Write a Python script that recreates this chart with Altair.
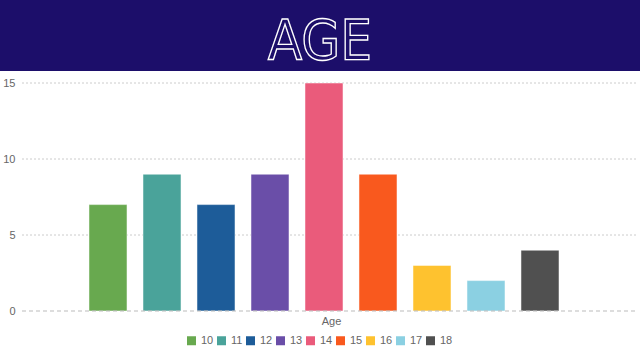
import altair as alt
import pandas as pd

ages = ["10", "11", "12", "13", "14", "15", "16", "17", "18"]
counts = [7, 9, 7, 9, 15, 9, 3, 2, 4]
colors = ["#68a94f", "#4aa39a", "#1d5c99", "#6a4ea8", "#ea5b7b", "#f9591e",
          "#fec22f", "#8bd0e2", "#505050"]
y_ticks = [0, 5, 10, 15]
title_text = ["AGE"]

df = pd.DataFrame({"age": ages, "count": counts})
gdf = pd.DataFrame({"v": y_ticks[1:]})
tdf = pd.DataFrame({"t": title_text})

NAVY = "#1c0e6a"
FONT = "Liberation Sans"
W, H = 618, 228

y_axis = alt.Axis(values=y_ticks, ticks=False, domain=False,
                  labelFont=FONT, labelFontSize=11, labelColor="#666666",
                  labelPadding=7, title=None, grid=False)

grid = alt.Chart(gdf).mark_rule(color="#cccccc", strokeDash=[2, 2], strokeWidth=1).encode(
    y=alt.Y("v:Q", scale=alt.Scale(domain=[0, 15], nice=False), axis=y_axis),
    x=alt.value(0), x2=alt.value(W - 4)
)

bars = alt.Chart(df).mark_bar(stroke="white", strokeWidth=1, strokeOpacity=0.5).encode(
    x=alt.X("age:N",
            scale=alt.Scale(paddingInner=0.296, paddingOuter=0.5, range=[40, 564]),
            axis=alt.Axis(labels=False, ticks=False, domain=False, grid=False,
                          title="Age", titleFont=FONT, titleFontSize=11,
                          titleFontWeight="normal", titleColor="#666666",
                          titlePadding=4, titleX=309)),
    y=alt.Y("count:Q", scale=alt.Scale(domain=[0, 15], nice=False), axis=y_axis),
    color=alt.Color("age:N",
                    scale=alt.Scale(domain=ages, range=colors),
                    legend=alt.Legend(orient="none", legendX=164, legendY=252,
                                      direction="horizontal", columns=9,
                                      title=None, symbolType="square",
                                      symbolSize=81, symbolStrokeWidth=0,
                                      labelFont=FONT, labelFontSize=11,
                                      labelColor="#666666", labelOffset=4,
                                      columnPadding=2)),
)

zero = alt.Chart(tdf).mark_rule(color="#bbbbbb", strokeDash=[4, 3], strokeWidth=1).encode(
    y=alt.datum(0), x=alt.value(0), x2=alt.value(W - 4)
)

banner = alt.Chart(tdf).mark_rect(color=NAVY).encode(
    x=alt.value(-22), x2=alt.value(W), y=alt.value(-83), y2=alt.value(-12)
)

title = alt.Chart(tdf).mark_text(
    font="DejaVu Sans Condensed",
    fontSize=56, fontWeight="normal", fill=NAVY, stroke="white", strokeWidth=1.3,
    baseline="alphabetic", align="center"
).encode(text="t:N", x=alt.value(298), y=alt.value(-24))

chart = alt.layer(grid, bars, zero, banner, title).resolve_axis(y="shared").properties(
    width=W, height=H,
    autosize=alt.AutoSizeParams(type="none"),
    padding={"left": 22, "top": 83, "right": 0, "bottom": 46},
).configure(background="white").configure_view(stroke=None)

chart.save("out.html", embed_options={"renderer": "svg", "actions": False})
